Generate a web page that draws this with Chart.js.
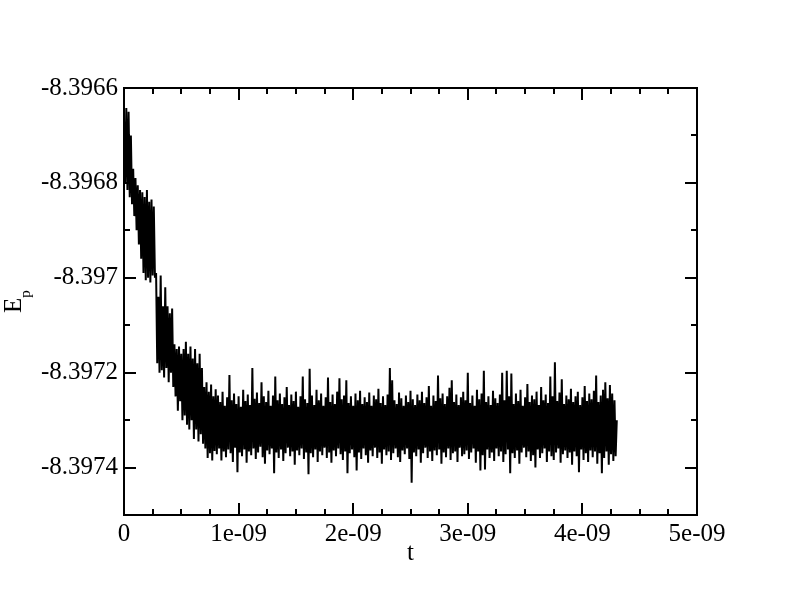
<!DOCTYPE html>
<html>
<head>
<meta charset="utf-8">
<script src="https://cdn.jsdelivr.net/npm/chart.js@4.4.1/dist/chart.umd.min.js"></script>
<style>
  html, body { margin: 0; padding: 0; background: #fff; }
  #wrap { width: 792px; height: 606px; }
</style>
</head>
<body>
<div id="wrap"><canvas id="c" width="792" height="606"></canvas></div>
<script>
// ---- data ----
const timeStep = 1e-11;          // sampling interval of the series (s)
const energyDescent = [
 -8.396665, -8.396800, -8.396642, -8.396815, -8.396650, -8.396830, -8.396700, -8.396845, -8.396770, -8.396870,
 -8.396790, -8.396900, -8.396805, -8.396930, -8.396815, -8.396960, -8.396820, -8.396990, -8.396830, -8.397005,
 -8.396815, -8.397000, -8.396840, -8.397010, -8.396835, -8.396995, -8.396850, -8.397000, -8.396990, -8.397180,
 -8.397040, -8.397200, -8.396995, -8.397195, -8.397060, -8.397210, -8.397020, -8.397190, -8.397060, -8.397220,
 -8.397075, -8.397200, -8.397065, -8.397230, -8.397140, -8.397250, -8.397150, -8.397280, -8.397145, -8.397260,
 -8.397160, -8.397300, -8.397150, -8.397290, -8.397135, -8.397310, -8.397160, -8.397320, -8.397145, -8.397300,
 -8.397170, -8.397340, -8.397150, -8.397320, -8.397180, -8.397345, -8.397160, -8.397330, -8.397190, -8.397350,
 -8.397230, -8.397360, -8.397220, -8.397380, -8.397240, -8.397370, -8.397225, -8.397385, -8.397250, -8.397365,
 -8.397235
];
const energyPlateau = [
 -8.397372, -8.397248, -8.397360, -8.397262, -8.397385, -8.397240, -8.397366, -8.397270, -8.397378, -8.397252,
 -8.397362, -8.397205, -8.397370, -8.397258, -8.397388, -8.397244, -8.397358, -8.397266, -8.397410, -8.397250,
 -8.397368, -8.397272, -8.397376, -8.397236, -8.397362, -8.397260, -8.397390, -8.397246, -8.397366, -8.397268,
 -8.397374, -8.397190, -8.397360, -8.397255, -8.397382, -8.397242, -8.397368, -8.397264, -8.397356, -8.397220,
 -8.397378, -8.397250, -8.397392, -8.397262, -8.397364, -8.397238, -8.397372, -8.397270, -8.397360, -8.397248,
 -8.397412, -8.397208, -8.397368, -8.397258, -8.397380, -8.397244, -8.397362, -8.397266, -8.397386, -8.397252,
 -8.397370, -8.397230, -8.397358, -8.397268, -8.397376, -8.397246, -8.397366, -8.397260, -8.397394, -8.397240,
 -8.397364, -8.397272, -8.397374, -8.397250, -8.397360, -8.397208, -8.397382, -8.397256, -8.397368, -8.397264,
 -8.397414, -8.397192, -8.397370, -8.397248, -8.397378, -8.397268, -8.397362, -8.397236, -8.397388, -8.397258,
 -8.397366, -8.397244, -8.397374, -8.397270, -8.397358, -8.397252, -8.397380, -8.397210, -8.397368, -8.397262,
 -8.397390, -8.397246, -8.397364, -8.397266, -8.397376, -8.397240, -8.397360, -8.397212, -8.397372, -8.397256,
 -8.397384, -8.397248, -8.397366, -8.397216, -8.397412, -8.397264, -8.397370, -8.397250, -8.397362, -8.397270,
 -8.397378, -8.397244, -8.397406, -8.397258, -8.397368, -8.397238, -8.397382, -8.397266, -8.397360, -8.397252,
 -8.397374, -8.397262, -8.397390, -8.397242, -8.397364, -8.397270, -8.397376, -8.397248, -8.397358, -8.397256,
 -8.397380, -8.397234, -8.397368, -8.397264, -8.397392, -8.397250, -8.397362, -8.397268, -8.397374, -8.397246,
 -8.397366, -8.397190, -8.397384, -8.397216, -8.397370, -8.397258, -8.397360, -8.397266, -8.397378, -8.397242,
 -8.397388, -8.397254, -8.397364, -8.397270, -8.397372, -8.397248, -8.397360, -8.397262, -8.397382, -8.397238,
 -8.397432, -8.397256, -8.397368, -8.397268, -8.397376, -8.397246, -8.397362, -8.397258, -8.397390, -8.397240,
 -8.397370, -8.397264, -8.397358, -8.397252, -8.397380, -8.397228, -8.397366, -8.397270, -8.397386, -8.397248,
 -8.397364, -8.397260, -8.397374, -8.397206, -8.397362, -8.397254, -8.397392, -8.397244, -8.397368, -8.397266,
 -8.397378, -8.397250, -8.397360, -8.397232, -8.397384, -8.397216, -8.397370, -8.397262, -8.397366, -8.397246,
 -8.397388, -8.397268, -8.397358, -8.397252, -8.397376, -8.397240, -8.397372, -8.397258, -8.397364, -8.397200,
 -8.397382, -8.397264, -8.397368, -8.397248, -8.397360, -8.397270, -8.397390, -8.397236, -8.397366, -8.397256,
 -8.397406, -8.397244, -8.397374, -8.397196, -8.397404, -8.397262, -8.397362, -8.397250, -8.397380, -8.397268,
 -8.397368, -8.397238, -8.397386, -8.397254, -8.397360, -8.397264, -8.397376, -8.397246, -8.397366, -8.397200,
 -8.397388, -8.397258, -8.397372, -8.397196, -8.397362, -8.397250, -8.397412, -8.397202, -8.397370, -8.397266,
 -8.397380, -8.397244, -8.397364, -8.397260, -8.397392, -8.397236, -8.397368, -8.397270, -8.397358, -8.397252,
 -8.397378, -8.397224, -8.397366, -8.397262, -8.397386, -8.397248, -8.397374, -8.397256, -8.397400, -8.397240,
 -8.397362, -8.397268, -8.397380, -8.397230, -8.397370, -8.397258, -8.397360, -8.397246, -8.397388, -8.397264,
 -8.397366, -8.397208, -8.397376, -8.397250, -8.397384, -8.397178, -8.397368, -8.397260, -8.397360, -8.397242,
 -8.397390, -8.397214, -8.397372, -8.397266, -8.397364, -8.397248, -8.397380, -8.397256, -8.397368, -8.397234,
 -8.397394, -8.397262, -8.397366, -8.397250, -8.397376, -8.397240, -8.397410, -8.397268, -8.397362, -8.397252,
 -8.397384, -8.397228, -8.397370, -8.397260, -8.397388, -8.397244, -8.397364, -8.397256, -8.397378, -8.397238,
 -8.397366, -8.397206, -8.397392, -8.397262, -8.397370, -8.397248, -8.397412, -8.397236, -8.397380, -8.397220,
 -8.397366, -8.397254, -8.397394, -8.397226, -8.397372, -8.397244, -8.397386, -8.397258, -8.397376, -8.397300
];
const xMajorTicks = [0, 1e-9, 2e-9, 3e-9, 4e-9, 5e-9];
const xTickLabels = ['0', '1e-09', '2e-09', '3e-09', '4e-09', '5e-09'];
const xMinorTicks = [0.25e-9, 0.5e-9, 0.75e-9, 1.25e-9, 1.5e-9, 1.75e-9, 2.25e-9, 2.5e-9, 2.75e-9,
                     3.25e-9, 3.5e-9, 3.75e-9, 4.25e-9, 4.5e-9, 4.75e-9];
const yMajorTicks = [-8.3974, -8.3972, -8.397, -8.3968, -8.3966];
const yTickLabels = ['-8.3974', '-8.3972', '-8.397', '-8.3968', '-8.3966'];
const yMinorTicks = [-8.3973, -8.3971, -8.3969, -8.3967];
const xRange = [0, 5e-9];
const yRange = [-8.3975, -8.3966];
const xTitle = 't';
const yTitleMain = 'E';
const yTitleSub = 'p';

// ---- build points ----
const energies = energyDescent.concat(energyPlateau);
const points = energies.map((e, i) => ({ x: i * timeStep, y: e }));

const FONT = '"Liberation Serif", "Times New Roman", serif';

const framePlugin = {
  id: 'frame',
  afterDraw(chart) {
    const { ctx, chartArea: a, scales: { x, y } } = chart;
    ctx.save();
    ctx.strokeStyle = '#000';
    ctx.lineWidth = 2;
    ctx.strokeRect(a.left, a.top, a.right - a.left, a.bottom - a.top);
    ctx.beginPath();
    const xt = (vals, len) => vals.forEach(v => {
      const p = Math.round(x.getPixelForValue(v));
      ctx.moveTo(p, a.bottom); ctx.lineTo(p, a.bottom - len);
      ctx.moveTo(p, a.top); ctx.lineTo(p, a.top + len);
    });
    const yt = (vals, len) => vals.forEach(v => {
      const p = Math.round(y.getPixelForValue(v));
      ctx.moveTo(a.left, p); ctx.lineTo(a.left + len, p);
      ctx.moveTo(a.right, p); ctx.lineTo(a.right - len, p);
    });
    xt(xMajorTicks, 12); xt(xMinorTicks, 6);
    yt(yMajorTicks, 12); yt(yMinorTicks, 6);
    ctx.stroke();

    // axis titles
    ctx.fillStyle = '#000';
    ctx.font = '25px ' + FONT;
    ctx.textAlign = 'center';
    ctx.textBaseline = 'middle';
    ctx.fillText(xTitle, (a.left + a.right) / 2, 553);

    ctx.translate(21, 313);
    ctx.rotate(-Math.PI / 2);
    ctx.textAlign = 'left';
    ctx.textBaseline = 'alphabetic';
    ctx.font = '25px ' + FONT;
    ctx.fillText(yTitleMain, 0, 0);
    const w = ctx.measureText(yTitleMain).width;
    ctx.font = '15px ' + FONT;
    ctx.fillText(yTitleSub, w, 9);
    ctx.restore();
  }
};

new Chart(document.getElementById('c'), {
  type: 'line',
  data: {
    datasets: [{
      data: points,
      borderColor: '#000',
      borderWidth: 2,
      borderJoinStyle: 'bevel',
      pointRadius: 0,
      fill: false,
      tension: 0
    }]
  },
  options: {
    responsive: false,
    animation: false,
    devicePixelRatio: 1,
    layout: { padding: { top: 88, right: 95, left: 0, bottom: 0 } },
    plugins: { legend: { display: false }, tooltip: { enabled: false }, title: { display: false } },
    scales: {
      x: {
        type: 'linear',
        min: xRange[0], max: xRange[1],
        grid: { display: false, drawTicks: false },
        border: { display: false },
        afterBuildTicks: s => { s.ticks = xMajorTicks.map(v => ({ value: v })); },
        afterFit: s => { s.height = 91; },
        ticks: {
          color: '#000',
          font: { family: FONT, size: 25 },
          padding: 4,
          maxRotation: 0,
          autoSkip: false,
          callback: (v, i) => xTickLabels[i]
        }
      },
      y: {
        type: 'linear',
        min: yRange[0], max: yRange[1],
        grid: { display: false, drawTicks: false },
        border: { display: false },
        afterBuildTicks: s => { s.ticks = yMajorTicks.map(v => ({ value: v })); },
        afterFit: s => { s.width = 124; },
        ticks: {
          color: '#000',
          font: { family: FONT, size: 25 },
          padding: 6,
          autoSkip: false,
          callback: (v, i) => yTickLabels[i]
        }
      }
    }
  },
  plugins: [framePlugin]
});
</script>
</body>
</html>
